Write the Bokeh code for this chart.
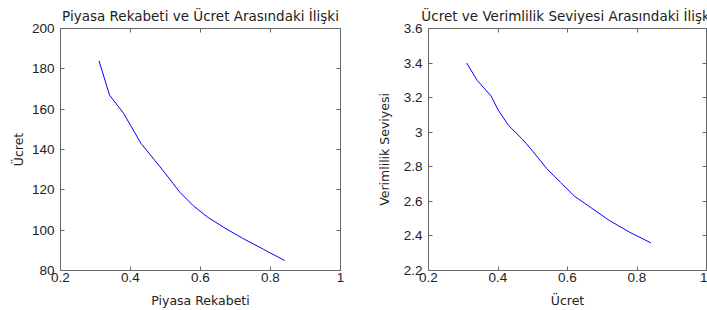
from bokeh.plotting import figure
from bokeh.layouts import row
from bokeh.models import FixedTicker, CustomJSTickFormatter, LinearAxis, Range1d
from bokeh.embed import file_html
from bokeh.resources import INLINE

# Data
x_vals = [0.31, 0.34, 0.38, 0.40, 0.43, 0.47, 0.50, 0.54, 0.58, 0.62, 0.67, 0.72, 0.78, 0.84]
ucret = [184, 167, 158, 152, 143, 134.5, 128, 119, 112, 106.5, 101, 96, 90.5, 85]
verim = [3.40, 3.30, 3.21, 3.13, 3.04, 2.96, 2.89, 2.79, 2.71, 2.63, 2.56, 2.49, 2.42, 2.36]

x_ticks = [0.2, 0.4, 0.6, 0.8, 1.0]
y1_ticks = [80, 100, 120, 140, 160, 180, 200]
y2_ticks = [2.2, 2.4, 2.6, 2.8, 3.0, 3.2, 3.4, 3.6]

titles = ["Piyasa Rekabeti ve Ücret Arasındaki İlişki",
          "Ücret ve Verimlilik Seviyesi Arasındaki İlişki"]
x_labels = ["Piyasa Rekabeti", "Ücret"]
y_labels = ["Ücret", "Verimlilik Seviyesi"]

FONT = "Liberation Sans"
TFONT = "DejaVu Sans"
AXC = "#666666"
fmt = CustomJSTickFormatter(code="return String(Math.round(tick*10)/10);")
blank = CustomJSTickFormatter(code="return '';")


def style_axis(ax, ticks, labels=True):
    ax.ticker = FixedTicker(ticks=ticks)
    ax.formatter = fmt if labels else blank
    ax.major_tick_in = 4
    ax.major_tick_out = 0
    ax.minor_tick_line_color = None
    ax.axis_line_color = AXC
    ax.major_tick_line_color = AXC
    ax.major_label_text_font = FONT
    ax.major_label_text_font_size = "13.5px"
    ax.major_label_text_color = "#222222"
    ax.axis_label_text_font = TFONT
    ax.axis_label_text_font_size = "12.5px"
    ax.axis_label_text_font_style = "normal"
    ax.axis_label_text_color = "#222222"
    if not labels:
        ax.major_label_standoff = 0
        ax.major_label_text_font_size = "0px"


def make(title, xl, yl, ys, yticks, yr, w, bl, br, ylab_standoff):
    p = figure(width=w, height=310, output_backend="svg",
               toolbar_location=None,
               x_range=Range1d(0.2, 1.0), y_range=Range1d(*yr),
               min_border_left=bl, min_border_right=br, min_border_top=28,
               min_border_bottom=40)
    p.title.text = title
    p.title.align = "center"
    p.title.text_font = TFONT
    p.title.text_font_size = "13.5px"
    p.title.text_font_style = "normal"
    p.title.text_color = "#222222"
    p.title.standoff = 10
    p.grid.visible = False
    p.outline_line_color = AXC
    p.background_fill_color = "white"
    p.border_fill_color = "white"
    p.xaxis.axis_label = xl
    p.yaxis.axis_label = yl
    style_axis(p.xaxis[0], x_ticks)
    style_axis(p.yaxis[0], yticks)
    p.xaxis[0].major_label_standoff = 2
    p.yaxis[0].major_label_standoff = 6
    p.xaxis[0].axis_label_standoff = 8
    p.yaxis[0].axis_label_standoff = ylab_standoff
    ra = LinearAxis()
    style_axis(ra, yticks, labels=False)
    p.add_layout(ra, "right")
    ta = LinearAxis()
    style_axis(ta, x_ticks, labels=False)
    p.add_layout(ta, "above")
    p.line(x_vals, ys, line_color="#0000ff", line_width=1)
    return p


p1 = make(titles[0], x_labels[0], y_labels[0], ucret, y1_ticks, (80, 200), 370, 60, 30, 3)
p2 = make(titles[1], x_labels[1], y_labels[1], verim, y2_ticks, (2.2, 3.6), 337, 58, 1, 9)

layout = row(p1, p2)
open("out.html", "w").write(file_html(layout, INLINE))
